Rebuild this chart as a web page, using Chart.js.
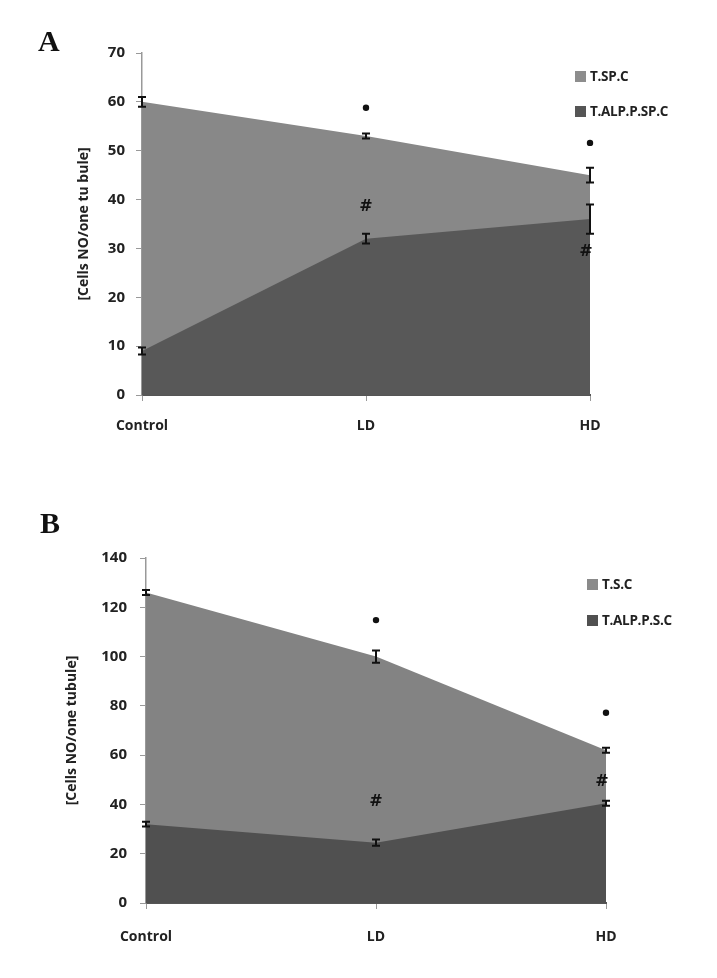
<!DOCTYPE html>
<html>
<head>
<meta charset="utf-8">
<script src="https://cdn.jsdelivr.net/npm/chart.js@4.4.0/dist/chart.umd.min.js"></script>
<style>
  body { margin: 0; background: #fff; width: 717px; height: 978px; position: relative; overflow: hidden; }
  .panel { position: absolute; left: 0; width: 717px; }
  .letter { position: absolute; font: bold 30px "Liberation Serif", serif; color: #111; }
  .leg { position: absolute; font: bold 13.5px "Open Sans", sans-serif; color: #222; white-space: nowrap; letter-spacing: -0.3px; }
  .leg span { display: inline-block; width: 11px; height: 11px; margin-right: 4px; vertical-align: -1px; }
</style>
</head>
<body>
<div class="panel" style="top:0;height:470px"><canvas id="chartA" width="717" height="470"></canvas></div>
<div class="panel" style="top:470px;height:508px"><canvas id="chartB" width="717" height="508"></canvas></div>
<div class="letter" style="left:38px;top:24px">A</div>
<div class="letter" style="left:40px;top:506px">B</div>
<div class="leg" style="left:575px;top:67px"><span style="background:#8d8d8d"></span>T.SP.C</div>
<div class="leg" style="left:575px;top:102px"><span style="background:#555555"></span>T.ALP.P.SP.C</div>
<div class="leg" style="left:587px;top:575px"><span style="background:#8a8a8a"></span>T.S.C</div>
<div class="leg" style="left:587px;top:611px"><span style="background:#505050"></span>T.ALP.P.S.C</div>
<script>
// categories
const groups = ['Control', 'LD', 'HD'];

// panel A
const spcA = [60, 53, 45];          // T.SP.C
const spcErrA = [1, 0.5, 1.5];
const alpA = [9, 32, 36];           // T.ALP.P.SP.C
const alpErrA = [0.7, 1, 3];
const starA = [null, 58.8, 51.6];
const hashA = [null, 38.5, 29.4];

// panel B
const scB = [126, 100, 62];         // T.S.C
const scErrB = [1, 2.5, 1];
const alpB = [32, 24.5, 40.5];      // T.ALP.P.S.C
const alpErrB = [1, 1.3, 1];
const starB = [null, 114.8, 77.2];
const hashB = [null, 41, 49.2];

// error bars + * / # marks
const marksPlugin = {
  id: 'marks',
  afterDatasetsDraw(chart, args, opts) {
    const ctx = chart.ctx;
    const x = chart.scales.x, y = chart.scales.y;
    ctx.save();
    ctx.strokeStyle = '#111';
    ctx.lineWidth = 2;
    opts.errors.forEach(e => {
      e.vals.forEach((v, i) => {
        const px = x.getPixelForValue(i);
        const top = y.getPixelForValue(v + e.err[i]);
        const bot = y.getPixelForValue(v - e.err[i]);
        ctx.beginPath();
        ctx.moveTo(px, top); ctx.lineTo(px, bot);
        ctx.moveTo(px - 4, top); ctx.lineTo(px + 4, top);
        ctx.moveTo(px - 4, bot); ctx.lineTo(px + 4, bot);
        ctx.stroke();
      });
    });
    ctx.fillStyle = '#111';
    ctx.textAlign = 'center';
    ctx.textBaseline = 'middle';
    opts.stars.forEach((v, i) => {
      if (v == null) return;
      ctx.beginPath();
      ctx.arc(x.getPixelForValue(i), y.getPixelForValue(v), 3.2, 0, Math.PI * 2);
      ctx.fill();
    });
    ctx.font = 'bold 16px "DejaVu Sans", sans-serif';
    opts.hashes.forEach((v, i) => {
      if (v == null) return;
      const off = i === 2 ? -4 : 0;
      ctx.fillText('#', x.getPixelForValue(i) + off, y.getPixelForValue(v));
    });
    ctx.restore();
  }
};

const tickFont = { family: 'Open Sans', size: 14, weight: 'bold' };

function makeChart(id, cfg) {
  return new Chart(document.getElementById(id), {
    type: 'line',
    data: {
      labels: groups,
      datasets: [
        { label: cfg.names[0], data: cfg.upper, backgroundColor: cfg.colors[0], fill: 'origin',
          borderWidth: 0, pointRadius: 0, order: 2 },
        { label: cfg.names[1], data: cfg.lower, backgroundColor: cfg.colors[1], fill: 'origin',
          borderWidth: 0, pointRadius: 0, order: 1 }
      ]
    },
    options: {
      responsive: false,
      animation: false,
      layout: { padding: { left: cfg.padLeft, right: cfg.padRight, top: cfg.padTop, bottom: 30 } },
      plugins: {
        legend: { display: false },
        tooltip: { enabled: false },
        marks: { errors: cfg.errors, stars: cfg.stars, hashes: cfg.hashes }
      },
      scales: {
        x: {
          offset: false,
          grid: { display: true, drawOnChartArea: false, offset: false, tickLength: 6, color: '#999' },
          border: { color: '#555', width: 2 },
          ticks: { font: tickFont, color: '#222', padding: cfg.xPad, maxRotation: 0 },
          afterFit: s => { s.height = 45; }
        },
        y: {
          min: 0, max: cfg.max,
          grid: { display: true, drawOnChartArea: false, tickLength: 6, color: '#999' },
          border: { color: '#999', width: 1.5 },
          ticks: { stepSize: cfg.step, font: { family: 'Open Sans', size: 15, weight: 'bold' }, color: '#222', padding: cfg.yPad },
          title: { display: true, text: cfg.title, font: { family: 'Open Sans', size: 14, weight: 'bold' }, color: '#222', padding: { top: 4, bottom: 4 } },
          afterFit: s => { s.width = cfg.yWidth; }
        }
      }
    },
    plugins: [marksPlugin]
  });
}

makeChart('chartA', {
  names: ['T.SP.C', 'T.ALP.P.SP.C'],
  upper: spcA, lower: alpA,
  colors: ['#888888', '#585858'],
  errors: [{ vals: spcA, err: spcErrA }, { vals: alpA, err: alpErrA }],
  stars: starA, hashes: hashA,
  max: 70, step: 10,
  title: '[Cells NO/one tu bule]',
  padLeft: 72, yWidth: 70, padRight: 127, padTop: 53,
  xPad: 17, yPad: 11
});

makeChart('chartB', {
  names: ['T.S.C', 'T.ALP.P.S.C'],
  upper: scB, lower: alpB,
  colors: ['#838383', '#505050'],
  errors: [{ vals: scB, err: scErrB }, { vals: alpB, err: alpErrB }],
  stars: starB, hashes: hashB,
  max: 140, step: 20,
  title: '[Cells NO/one tubule]',
  padLeft: 60, yWidth: 86, padRight: 111, padTop: 88,
  xPad: 20, yPad: 13
});
</script>
</body>
</html>
